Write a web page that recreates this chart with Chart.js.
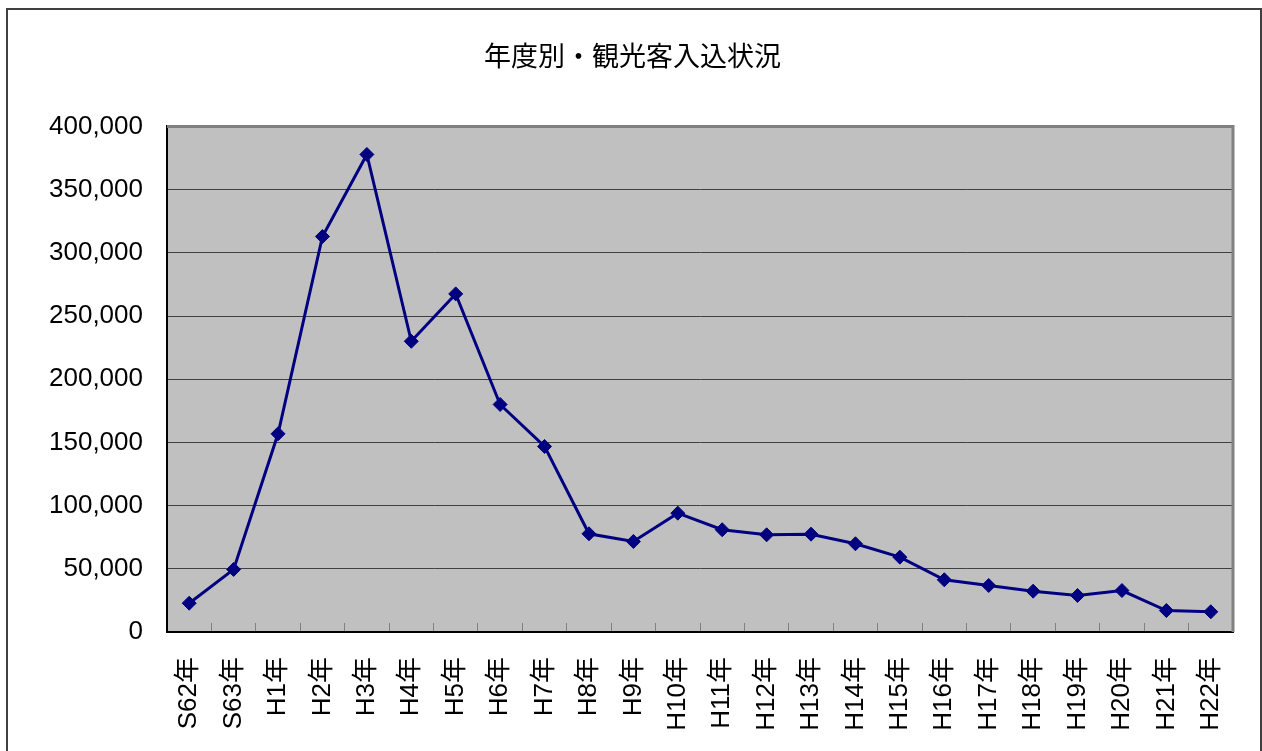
<!DOCTYPE html>
<html>
<head>
<meta charset="utf-8">
<script src="https://cdn.jsdelivr.net/npm/chart.js@4/dist/chart.umd.min.js"></script>
<style>
  html, body { margin: 0; padding: 0; background: #ffffff; }
  #wrap { width: 1262px; height: 751px; position: relative; }
</style>
</head>
<body>
<div id="wrap"><canvas id="c" width="1262" height="751"></canvas></div>
<script>
const chartTitle = '年度別・観光客入込状況';
const categories = ['S62年','S63年','H1年','H2年','H3年','H4年','H5年','H6年','H7年','H8年','H9年','H10年','H11年','H12年','H13年','H14年','H15年','H16年','H17年','H18年','H19年','H20年','H21年','H22年'];
const visitors = [22800, 49500, 156800, 312900, 377800, 230000, 267500, 180000, 146800, 77700, 71600, 94000, 80900, 76900, 77400, 69800, 59200, 41300, 36800, 32300, 28900, 32800, 17000, 16000];
const yMin = 0;
const yMax = 400000;
const yStep = 50000;

const FONT = "'Liberation Sans', Arial, 'Noto Sans CJK JP', sans-serif";

const plotDecor = {
  id: 'plotDecor',
  beforeDraw(chart) {
    const { ctx, chartArea: a } = chart;
    ctx.save();
    ctx.fillStyle = '#ffffff';
    ctx.fillRect(0, 0, chart.width, chart.height);
    ctx.fillStyle = '#c0c0c0';
    ctx.fillRect(a.left, a.top, a.right - a.left, a.bottom - a.top);
    ctx.restore();
  },
  beforeDatasetsDraw(chart) {
    const { ctx, chartArea: a } = chart;
    ctx.save();
    ctx.strokeStyle = '#808080';
    ctx.lineWidth = 3;
    ctx.beginPath();
    ctx.moveTo(a.left, a.top);
    ctx.lineTo(a.right, a.top);
    ctx.lineTo(a.right, a.bottom);
    ctx.stroke();
    ctx.restore();
  },
  afterDraw(chart) {
    const { ctx } = chart;
    ctx.save();
    ctx.strokeStyle = '#404040';
    ctx.lineWidth = 2;
    ctx.strokeRect(7, 9, 1254, 760);
    ctx.restore();
  }
};

new Chart(document.getElementById('c'), {
  type: 'line',
  data: {
    labels: categories,
    datasets: [{
      data: visitors,
      borderColor: '#000080',
      backgroundColor: '#000080',
      borderWidth: 3,
      tension: 0,
      pointStyle: 'rectRot',
      pointRadius: 7,
      pointHoverRadius: 7,
      pointBorderWidth: 1,
      pointBorderColor: '#000080',
      pointBackgroundColor: '#000080',
      fill: false
    }]
  },
  options: {
    responsive: false,
    animation: false,
    devicePixelRatio: 1,
    layout: { padding: { left: 32, right: 29, top: 9, bottom: 0 } },
    plugins: {
      legend: { display: false },
      tooltip: { enabled: false },
      title: {
        display: true,
        text: chartTitle,
        color: '#000000',
        font: { family: "'Noto Sans CJK JP', sans-serif", size: 27, weight: 'normal', lineHeight: 1.2 },
        padding: { top: 31, bottom: 54 }
      }
    },
    scales: {
      x: {
        type: 'category',
        offset: true,
        grid: {
          offset: true,
          drawOnChartArea: false,
          drawTicks: true,
          tickLength: -9,
          tickColor: '#808080',
          tickWidth: 1
        },
        border: { display: true, color: '#000000', width: 2 },
        ticks: {
          autoSkip: false,
          minRotation: 90,
          maxRotation: 90,
          padding: 34,
          color: '#000000',
          font: { family: FONT, size: 26 }
        },
        afterFit(scale) {
          scale.height = 119;
          scale.paddingLeft = 0;
          scale.paddingRight = 0;
        }
      },
      y: {
        min: yMin,
        max: yMax,
        grid: { color: '#404040', lineWidth: 1, drawTicks: false },
        border: { display: true, color: '#000000', width: 2 },
        ticks: {
          stepSize: yStep,
          padding: 24,
          color: '#000000',
          font: { family: FONT, size: 26 },
          callback: (v) => Number(v).toLocaleString('en-US')
        },
        afterFit(scale) {
          scale.width = 135;
          scale.paddingTop = 0;
          scale.paddingBottom = 0;
        }
      }
    }
  },
  plugins: [plotDecor]
});
</script>
</body>
</html>
